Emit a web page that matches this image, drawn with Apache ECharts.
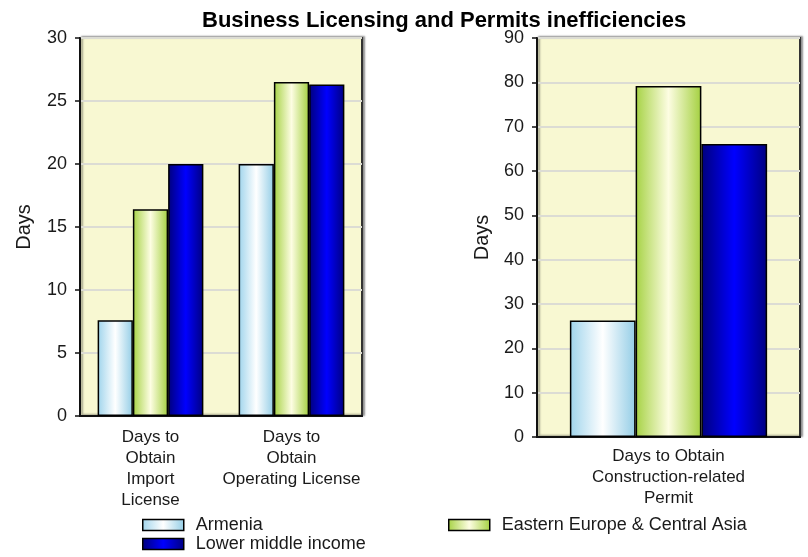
<!DOCTYPE html>
<html>
<head>
<meta charset="utf-8">
<script src="https://cdn.jsdelivr.net/npm/echarts@6/dist/echarts.min.js"></script>
<style>
  html, body { margin: 0; padding: 0; background: #ffffff; }
  #chart { width: 808px; height: 557px; }
</style>
</head>
<body>
<div id="chart"></div>
<script>
// Licensing indicators (left panel)
const licenseCategories = ['Days to\nObtain\nImport\nLicense', 'Days to\nObtain\nOperating License'];
const armeniaLicense = [7.6, 20.0];
const eecaLicense = [16.4, 26.5];
const lowerMiddleLicense = [20.0, 26.3];

// Construction permit indicator (right panel)
const permitCategories = ['Days to Obtain\nConstruction-related\nPermit'];
const armeniaPermit = [26.3];
const eecaPermit = [79.2];
const lowerMiddlePermit = [66.1];

// Value axis ranges
const licenseAxis = { min: 0, max: 30, interval: 5 };
const permitAxis = { min: 0, max: 90, interval: 10 };

const seriesNames = ['Armenia', 'Eastern Europe & Central Asia', 'Lower middle income'];

const FONT = '"Liberation Sans", Arial, sans-serif';

function cylinder(edgeL, mid, edgeR) {
  return new echarts.graphic.LinearGradient(0, 0, 1, 0, [
    { offset: 0, color: edgeL },
    { offset: 0.5, color: mid },
    { offset: 1, color: edgeR }
  ]);
}

const fills = [
  () => cylinder('#9fd4ec', '#ffffff', '#93cde6'),
  () => cylinder('#a6d244', '#fdfde2', '#a4d040'),
  () => cylinder('#00007c', '#0000ff', '#000080')
];

const barStyle = i => ({ color: fills[i](), borderColor: '#000000', borderWidth: 1.5 });

function makeBar(name, idx, data, axisIndex) {
  return {
    name: name,
    type: 'bar',
    xAxisIndex: axisIndex,
    yAxisIndex: axisIndex,
    data: data,
    barGap: '0%',
    barCategoryGap: '25%',
    itemStyle: barStyle(idx),
    emphasis: { disabled: true }
  };
}

const gridStyle = {
  show: true,
  backgroundColor: '#f8f8d2',
  borderColor: '#333333',
  borderWidth: 2,
  shadowColor: 'rgba(0,0,0,0.35)',
  shadowBlur: 2,
  shadowOffsetX: 2,
  shadowOffsetY: -1
};

function valueAxis(gridIndex, range, nameGap) {
  return {
    type: 'value',
    gridIndex: gridIndex,
    min: range.min,
    max: range.max,
    interval: range.interval,
    name: 'Days',
    nameLocation: 'middle',
    nameGap: nameGap,
    nameTextStyle: { fontFamily: FONT, fontSize: 20, color: '#1a1a1a' },
    axisLine: { show: true, lineStyle: { color: '#111111', width: 2 } },
    axisTick: { show: true, length: 5, lineStyle: { color: '#111111', width: 1.5 } },
    axisLabel: { fontFamily: FONT, fontSize: 18, color: '#1a1a1a', margin: 13 },
    splitLine: { show: true, lineStyle: { color: '#dcdcd4', width: 2 } }
  };
}

function categoryAxis(gridIndex, cats, margin) {
  return {
    type: 'category',
    gridIndex: gridIndex,
    data: cats,
    axisLine: { show: true, lineStyle: { color: '#111111', width: 2 } },
    axisTick: { show: false },
    axisLabel: {
      interval: 0,
      margin: margin,
      fontFamily: FONT,
      fontSize: 17,
      lineHeight: 21,
      color: '#1a1a1a',
      align: 'center'
    }
  };
}

function legendFor(name, idx, left, top) {
  return {
    data: [name],
    left: left,
    top: top,
    padding: 0,
    itemWidth: 41,
    itemHeight: 11,
    icon: 'rect',
    selectedMode: false,
    itemStyle: barStyle(idx),
    textStyle: { fontFamily: FONT, fontSize: 18, color: '#1a1a1a', padding: [0, 0, 0, 7] }
  };
}

const chart = echarts.init(document.getElementById('chart'), null, { renderer: 'canvas' });

chart.setOption({
  backgroundColor: '#ffffff',
  animation: false,
  title: {
    text: 'Business Licensing and Permits inefficiencies',
    left: 197,
    top: 5,
    textStyle: { fontFamily: FONT, fontSize: 22, fontWeight: 'bold', color: '#000000' }
  },
  legend: [
    legendFor(seriesNames[0], 0, 142, 516),
    legendFor(seriesNames[1], 1, 448, 516),
    legendFor(seriesNames[2], 2, 142, 535)
  ],
  grid: [
    Object.assign({ left: 80, top: 38, width: 282, height: 378 }, gridStyle),
    Object.assign({ left: 537, top: 38, width: 263, height: 399 }, gridStyle)
  ],
  xAxis: [
    categoryAxis(0, licenseCategories, 11),
    categoryAxis(1, permitCategories, 9)
  ],
  yAxis: [
    valueAxis(0, licenseAxis, 46),
    valueAxis(1, permitAxis, 45)
  ],
  series: [
    makeBar(seriesNames[0], 0, armeniaLicense, 0),
    makeBar(seriesNames[1], 1, eecaLicense, 0),
    makeBar(seriesNames[2], 2, lowerMiddleLicense, 0),
    makeBar(seriesNames[0], 0, armeniaPermit, 1),
    makeBar(seriesNames[1], 1, eecaPermit, 1),
    makeBar(seriesNames[2], 2, lowerMiddlePermit, 1)
  ]
});
</script>
</body>
</html>
